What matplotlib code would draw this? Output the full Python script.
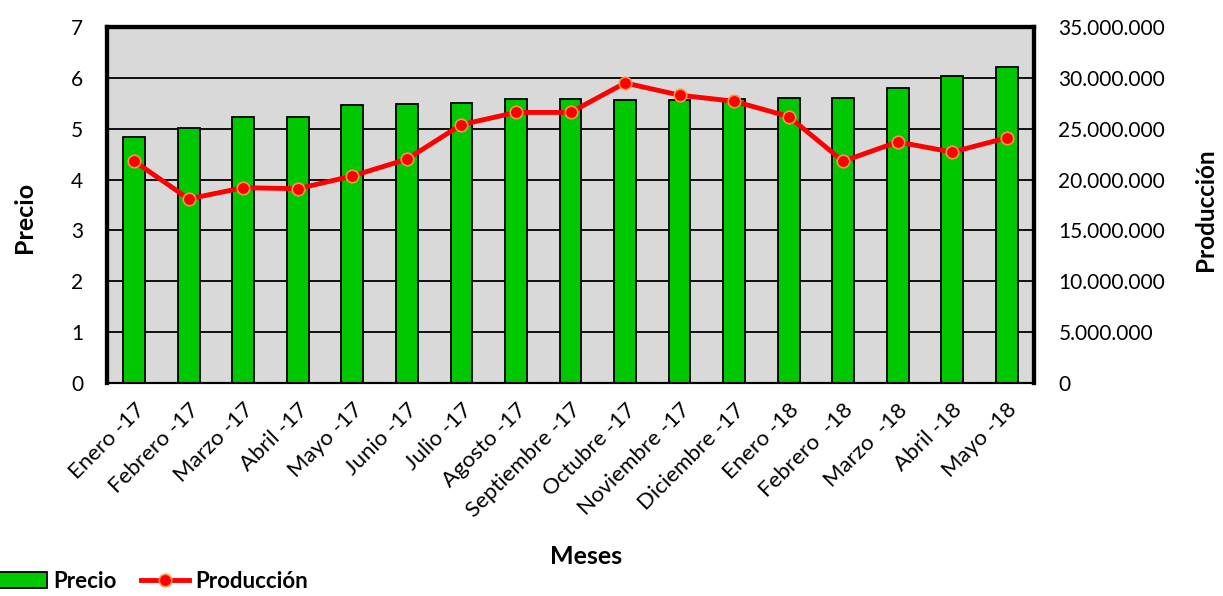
import matplotlib
matplotlib.use('Agg')
import matplotlib.pyplot as plt
from matplotlib.ticker import FuncFormatter
import numpy as np

plt.rcParams['font.family'] = ['Lato', 'DejaVu Sans']

meses = ['Enero -17', 'Febrero -17', 'Marzo -17', 'Abril -17', 'Mayo -17', 'Junio -17',
         'Julio -17', 'Agosto -17', 'Septiembre -17', 'Octubre -17', 'Noviembre -17',
         'Diciembre -17', 'Enero -18', 'Febrero  -18', 'Marzo  -18', 'Abril -18', 'Mayo -18']
precio = [4.84, 5.01, 5.23, 5.23, 5.46, 5.49, 5.51, 5.58, 5.58, 5.57, 5.56,
          5.58, 5.60, 5.61, 5.80, 6.04, 6.21]
produccion = [21.8e6, 18.1e6, 19.2e6, 19.1e6, 20.35e6, 22.0e6, 25.4e6, 26.6e6, 26.6e6,
              29.5e6, 28.3e6, 27.7e6, 26.2e6, 21.8e6, 23.7e6, 22.7e6, 24.1e6]

fig = plt.figure(figsize=(12.23, 5.96), dpi=100)
ax = fig.add_axes([107 / 1223, 1 - 383 / 596, 927 / 1223, 356 / 596])
x = np.arange(len(meses))

ax.set_facecolor('#D9D9D9')
ax.bar(x, precio, width=0.4, color='#00C800', edgecolor='black', linewidth=1.3,
       label='Precio', zorder=2)
ax.set_xlim(-0.5, len(meses) - 0.5)
ax.set_ylim(0, 7)
ax.set_yticks(range(0, 8))
ax.yaxis.grid(True, color='black', linewidth=1.3, zorder=1)
ax.set_axisbelow(True)
ax.set_xticks(x)
ax.set_xticklabels(meses, rotation=45, ha='right', va='top', rotation_mode='anchor')
ax.tick_params(axis='x', length=0, pad=12, labelsize=16)
ax.tick_params(axis='y', length=0, pad=17, labelsize=15)

ax2 = ax.twinx()
ax2.plot(x, produccion, color='#FF0000', linewidth=3.5, marker='o', markersize=9,
         markerfacecolor='#FF0000', markeredgecolor='#F79646', markeredgewidth=1.2,
         label='Producción', zorder=3)
ax2.set_ylim(0, 35e6)
ax2.set_yticks(np.arange(0, 35e6 + 1, 5e6))
ax2.yaxis.set_major_formatter(FuncFormatter(lambda v, p: f"{int(v):,}".replace(',', '.')))
ax2.tick_params(axis='y', length=0, pad=17.5, labelsize=15)

for a in (ax, ax2):
    for s in ('left', 'top', 'right'):
        a.spines[s].set_linewidth(3)
        a.spines[s].set_color('black')
    a.spines['bottom'].set_linewidth(1.5)

ax.set_ylabel('Precio', fontsize=18, fontweight='bold', va='center')
ax.yaxis.set_label_coords(-0.0885, 0.465)
ax2.set_ylabel('Producción', fontsize=17.5, fontweight='bold', va='center')
ax2.yaxis.set_label_coords(1.1845, 0.486)
fig.text(586 / 1223, 1 - 556 / 596, 'Meses', fontsize=18, fontweight='bold',
         ha='center', va='center')

h1, l1 = ax.get_legend_handles_labels()
h2, l2 = ax2.get_legend_handles_labels()
fig.legend(h1 + h2, l1 + l2, loc='lower left', bbox_to_anchor=(-0.005, 0), ncol=2,
           frameon=False, handlelength=2.2, handletextpad=0.25, columnspacing=1.1,
           borderaxespad=0.1, borderpad=0.1, prop={'weight': 'bold', 'size': 16})

fig.savefig('out.png', dpi=100)
